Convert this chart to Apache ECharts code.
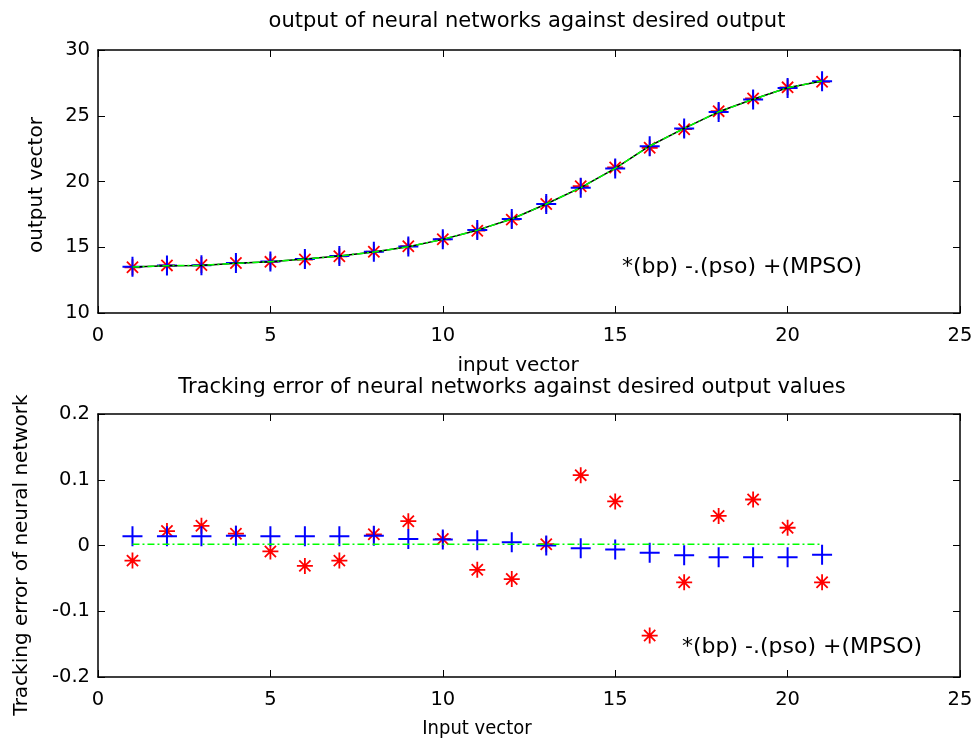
<!DOCTYPE html>
<html>
<head>
<meta charset="utf-8">
<script src="https://cdn.jsdelivr.net/npm/echarts@6/dist/echarts.min.js"></script>
<style>
    html, body {margin: 0; padding: 0; background: #fff;}
    #main {width: 978px; height: 746px;}
</style>
</head>
<body>
<div id="main"></div>
<script>
'use strict';

// input vector
var inputVector = [1, 2, 3, 4, 5, 6, 7, 8, 9, 10, 11, 12, 13, 14, 15, 16, 17, 18, 19, 20, 21];

// top plot: outputs
var desiredOut = [13.50, 13.60, 13.62, 13.78, 13.90, 14.10, 14.33, 14.64, 15.04, 15.60, 16.30, 17.15, 18.29, 19.53, 21.00, 22.70, 24.04, 25.30, 26.25, 27.13, 27.64];
var psoOut = [13.50, 13.60, 13.62, 13.78, 13.90, 14.10, 14.33, 14.64, 15.04, 15.60, 16.30, 17.15, 18.29, 19.53, 21.00, 22.70, 24.04, 25.30, 26.25, 27.13, 27.64];
var bpOut = [13.48, 13.62, 13.65, 13.80, 13.89, 14.07, 14.31, 14.66, 15.08, 15.61, 16.26, 17.10, 18.29, 19.64, 21.07, 22.56, 23.98, 25.35, 26.32, 27.16, 27.58];
var mpsoOut = [13.51, 13.61, 13.63, 13.80, 13.91, 14.11, 14.34, 14.66, 15.05, 15.61, 16.31, 17.15, 18.29, 19.53, 20.99, 22.69, 24.03, 25.28, 26.23, 27.11, 27.63];

// bottom plot: tracking error
var bpErr = [-0.023, 0.022, 0.030, 0.018, -0.009, -0.031, -0.023, 0.017, 0.037, 0.010, -0.037, -0.051, 0.002, 0.107, 0.067, -0.137, -0.056, 0.045, 0.070, 0.027, -0.056];
var mpsoErr = [0.014, 0.014, 0.014, 0.015, 0.014, 0.014, 0.014, 0.015, 0.010, 0.009, 0.008, 0.005, 0.000, -0.004, -0.006, -0.011, -0.015, -0.018, -0.018, -0.018, -0.014];
var psoErr = [0.002, 0.002, 0.002, 0.002, 0.002, 0.002, 0.002, 0.002, 0.002, 0.002, 0.002, 0.002, 0.002, 0.002, 0.002, 0.002, 0.002, 0.002, 0.002, 0.002, 0.002];

var FONT = 'DejaVu Sans';
var NARROW = '"Liberation Sans Narrow", "DejaVu Sans Condensed", sans-serif';
var PLUS = 'path://M0,10L20,10M10,0L10,20';
var STAR = 'path://M0,10L20,10M10,0L10,20M3,3L17,17M17,3L3,17';

function pairs(xs, ys) {
    return xs.map(function (x, i) { return [x, ys[i]]; });
}

function xAx(grid, pos, show) {
    return {
        type: 'value', gridIndex: grid, position: pos, min: 0, max: 25, interval: 5,
        axisLine: {show: true, onZero: false, lineStyle: {color: '#000', width: 1.5}},
        axisTick: {show: true, inside: true, length: 7, lineStyle: {color: '#000', width: 1}},
        axisLabel: {show: show, color: '#000', fontFamily: FONT, fontSize: 19.5, margin: 13},
        splitLine: {show: false}
    };
}

function yAx(grid, pos, show, min, max, step) {
    return {
        type: 'value', gridIndex: grid, position: pos, min: min, max: max, interval: step,
        axisLine: {show: true, onZero: false, lineStyle: {color: '#000', width: 1.5}},
        axisTick: {show: true, inside: true, length: 7, lineStyle: {color: '#000', width: 1}},
        axisLabel: {
            show: show, color: '#000', fontFamily: FONT, fontSize: 19.5, margin: 8,
            formatter: function (v) { return String(Number(v.toFixed(1))); }
        },
        splitLine: {show: false}
    };
}

function txt(s, x, y, opt) {
    opt = opt || {};
    return {
        type: 'text', x: x, y: y, rotation: opt.rot || 0, z: 100,
        style: {
            text: s, fill: '#000', font: (opt.size || 20) + 'px ' + (opt.family || FONT),
            textAlign: opt.align || 'center', textVerticalAlign: 'middle'
        }
    };
}

var chart = echarts.init(document.getElementById('main'), null, {renderer: 'canvas'});

chart.setOption({
    backgroundColor: '#fff',
    animation: false,
    grid: [
        {left: 98, right: 18, top: 50, height: 263},
        {left: 98, right: 18, top: 414, height: 263}
    ],
    xAxis: [xAx(0, 'bottom', true), xAx(0, 'top', false), xAx(1, 'bottom', true), xAx(1, 'top', false)],
    yAxis: [
        yAx(0, 'left', true, 10, 30, 5), yAx(0, 'right', false, 10, 30, 5),
        yAx(1, 'left', true, -0.2, 0.2, 0.1), yAx(1, 'right', false, -0.2, 0.2, 0.1)
    ],
    graphic: [
        txt('output of neural networks against desired output', 527, 22, {size: 21}),
        txt('output vector', 37, 185, {rot: Math.PI / 2}),
        txt('input vector', 518, 366),
        txt('*(bp) -.(pso) +(MPSO)', 622, 267, {align: 'left', size: 22}),
        txt('Tracking error of neural networks against desired output values', 512, 388, {size: 21}),
        txt('Tracking error of neural network', 22, 555, {rot: Math.PI / 2}),
        txt('Input vector', 477, 729, {family: NARROW, size: 20}),
        txt('*(bp) -.(pso) +(MPSO)', 682, 647, {align: 'left', size: 22})
    ],
    series: [
        // top
        {type: 'line', xAxisIndex: 0, yAxisIndex: 0, data: pairs(inputVector, desiredOut), showSymbol: false,
            lineStyle: {color: '#000', width: 1.5}},
        {type: 'line', xAxisIndex: 0, yAxisIndex: 0, data: pairs(inputVector, psoOut), showSymbol: false,
            lineStyle: {color: '#00ff00', width: 1.5, type: [7, 3, 2, 3]}},
        {type: 'scatter', xAxisIndex: 0, yAxisIndex: 0, data: pairs(inputVector, bpOut), symbol: STAR, symbolSize: 16,
            itemStyle: {color: 'none', borderColor: '#ff0000', borderWidth: 1.8, opacity: 1}},
        {type: 'scatter', xAxisIndex: 0, yAxisIndex: 0, data: pairs(inputVector, mpsoOut), symbol: PLUS, symbolSize: 20,
            itemStyle: {color: 'none', borderColor: '#0000ff', borderWidth: 2, opacity: 1}},
        // bottom
        {type: 'line', xAxisIndex: 2, yAxisIndex: 2, data: pairs(inputVector, psoErr), showSymbol: false,
            lineStyle: {color: '#00ff00', width: 1.5, type: [7, 3, 2, 3]}},
        {type: 'scatter', xAxisIndex: 2, yAxisIndex: 2, data: pairs(inputVector, bpErr), symbol: STAR, symbolSize: 16,
            itemStyle: {color: 'none', borderColor: '#ff0000', borderWidth: 1.8, opacity: 1}},
        {type: 'scatter', xAxisIndex: 2, yAxisIndex: 2, data: pairs(inputVector, mpsoErr), symbol: PLUS, symbolSize: 20,
            itemStyle: {color: 'none', borderColor: '#0000ff', borderWidth: 2, opacity: 1}}
    ]
});
</script>
</body>
</html>
